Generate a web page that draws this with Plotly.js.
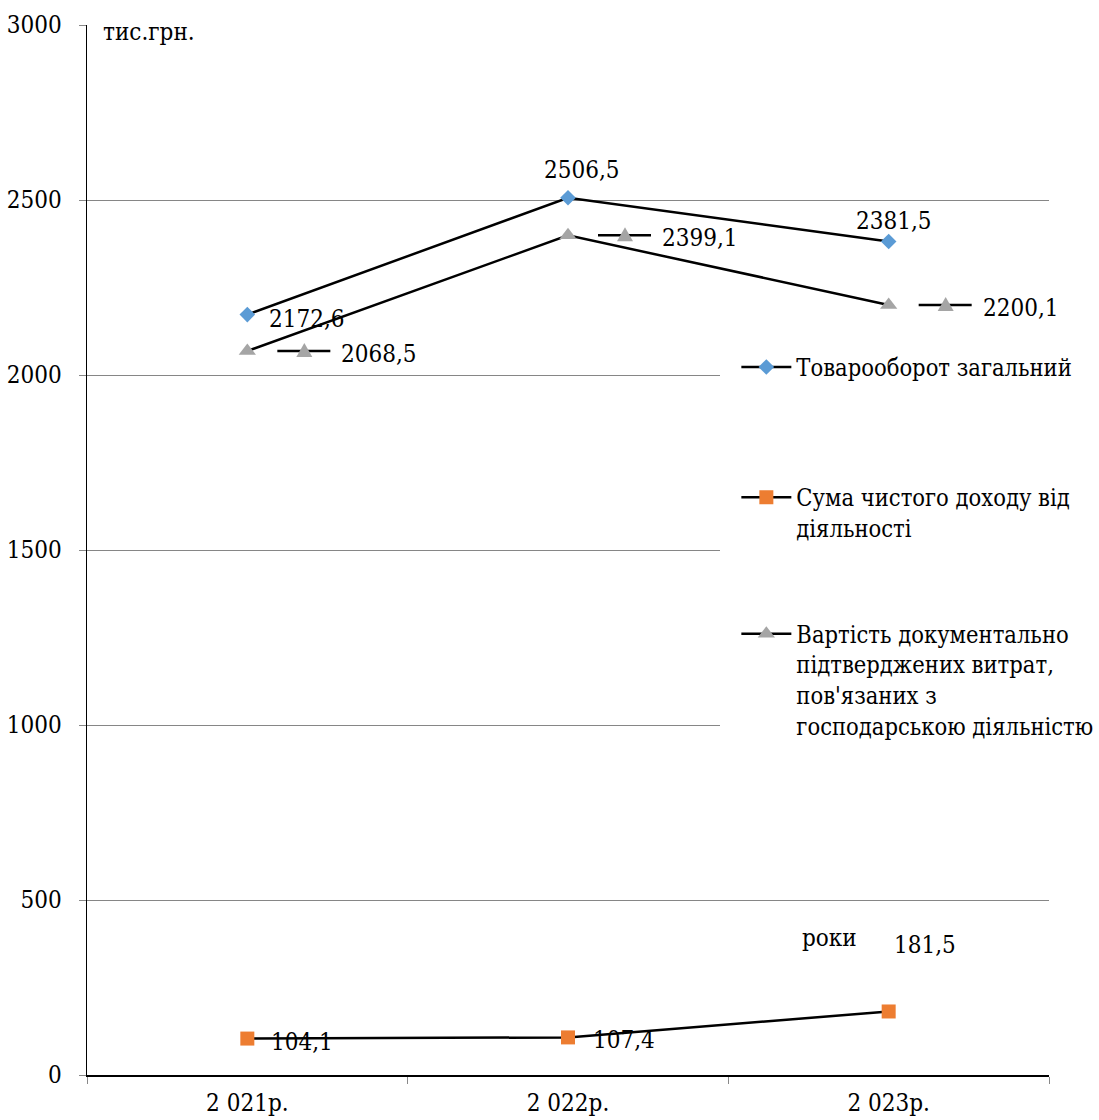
<!DOCTYPE html>
<html>
<head>
<meta charset="utf-8">
<script src="https://cdn.plot.ly/plotly-3.0.1.min.js"></script>
<style>
  html, body { margin: 0; padding: 0; background: #fff; }
  #chart { width: 1099px; height: 1120px; }
</style>
</head>
<body>
<div id="chart"></div>
<script>
// Роки (категорії осі X)
const years = ['2 021р.', '2 022р.', '2 023р.'];

// Показники, тис.грн.
const turnover = [2172.6, 2506.5, 2381.5];   // Товарооборот загальний
const netIncome = [104.1, 107.4, 181.5];      // Сума чистого доходу від діяльності
const expenses = [2068.5, 2399.1, 2200.1];    // Вартість документально підтверджених витрат

const seriesNames = [
  'Товарооборот загальний',
  'Сума чистого доходу від<br>діяльності',
  'Вартість документально<br>підтверджених витрат,<br>пов\'язаних з<br>господарською діяльністю'
];

const yTicks = [0, 500, 1000, 1500, 2000, 2500, 3000];

const FONT = 'DejaVu Serif Condensed, DejaVu Serif, serif';
const FS = 24;
const fmt = v => v.toFixed(1).replace('.', ',');
const xIdx = i => i; // category index on the x axis

const traces = [
  {
    x: years, y: turnover, name: seriesNames[0], type: 'scatter', mode: 'lines+markers',
    line: { color: '#000', width: 2.5 },
    marker: { symbol: 'diamond', size: 12, color: '#5B9BD5' },
    legend: 'legend', cliponaxis: false
  },
  {
    x: years, y: netIncome, name: seriesNames[1], type: 'scatter', mode: 'lines+markers',
    line: { color: '#000', width: 2.5 },
    marker: { symbol: 'square', size: 14, color: '#ED7D31' },
    legend: 'legend2', cliponaxis: false
  },
  {
    x: years, y: expenses, name: seriesNames[2], type: 'scatter', mode: 'lines+markers',
    line: { color: '#000', width: 2.5 },
    marker: { symbol: 'triangle-up', size: 15, color: '#A5A5A5' },
    legend: 'legend3', cliponaxis: false
  }
];

// Data labels: pixel offsets from each point
const turnoverOffsets = [
  { xanchor: 'left', xshift: 20, yshift: -4 },
  { xanchor: 'center', xshift: 14, yshift: 28 },
  { xanchor: 'center', xshift: 5, yshift: 20 }
];
const incomeOffsets = [
  { xanchor: 'left', xshift: 22, yshift: -3 },
  { xanchor: 'left', xshift: 23, yshift: -3 },
  { xanchor: 'center', xshift: 36, yshift: 66 }
];

const annotations = [];
const labelFont = { family: FONT, size: FS, color: '#000' };

turnover.forEach((v, i) => {
  annotations.push(Object.assign({
    x: xIdx(i), y: v, xref: 'x', yref: 'y', text: fmt(v), showarrow: false,
    yanchor: 'middle', font: labelFont
  }, turnoverOffsets[i]));
});
netIncome.forEach((v, i) => {
  annotations.push(Object.assign({
    x: xIdx(i), y: v, xref: 'x', yref: 'y', text: fmt(v), showarrow: false,
    yanchor: 'middle', font: labelFont
  }, incomeOffsets[i]));
});

// Labels with a legend key in front of the value
const shapes = [];
expenses.forEach((v, i) => {
  annotations.push({
    x: xIdx(i), y: v, xref: 'x', yref: 'y', text: fmt(v), showarrow: false,
    xanchor: 'left', yanchor: 'middle', xshift: 92, yshift: -3, font: labelFont
  });
  shapes.push({
    type: 'line', xref: 'x', yref: 'y', xsizemode: 'pixel', ysizemode: 'pixel',
    xanchor: xIdx(i), yanchor: v, x0: 30, x1: 83, y0: 0, y1: 0,
    line: { color: '#000', width: 2.5 }, layer: 'above'
  });
  shapes.push({
    type: 'path', xref: 'x', yref: 'y', xsizemode: 'pixel', ysizemode: 'pixel',
    xanchor: xIdx(i), yanchor: v,
    path: 'M 49,-6 L 65,-6 L 57,8 Z',
    fillcolor: '#A5A5A5', line: { width: 0 }, layer: 'above'
  });
});

// White panel behind the legends (hides grid lines there)
shapes.unshift({
  type: 'rect', xref: 'paper', yref: 'paper',
  x0: 0.658, x1: 1.06, y0: 0.314, y1: 0.69,
  fillcolor: '#fff', line: { width: 0 }, layer: 'above'
});

annotations.push({
  xref: 'paper', yref: 'paper', x: 0.0146, y: 0.9933, xanchor: 'left', yanchor: 'middle',
  text: 'тис.грн.', showarrow: false, font: labelFont
});
annotations.push({
  xref: 'paper', yref: 'paper', x: 0.741, y: 0.1305, xanchor: 'left', yanchor: 'middle',
  text: 'роки', showarrow: false, font: labelFont
});

const legendBase = {
  xanchor: 'left', yanchor: 'top', bgcolor: 'rgba(0,0,0,0)', borderwidth: 0,
  font: { family: FONT, size: 23.5, color: '#000' }, valign: 'top', itemwidth: 50
};

const layout = {
  width: 1099, height: 1120,
  margin: { l: 87, r: 50, t: 25, b: 45, autoexpand: false },
  paper_bgcolor: '#fff', plot_bgcolor: '#fff',
  font: { family: FONT, size: FS, color: '#000' },
  xaxis: {
    type: 'category', range: [-0.5, 2.5],
    showline: true, linecolor: '#000', linewidth: 1.5,
    ticks: 'outside', tickson: 'boundaries', ticklen: 7, tickcolor: '#888', tickwidth: 1,
    showgrid: false, zeroline: false,
    tickfont: { family: FONT, size: FS, color: '#000' },
    ticklabelstandoff: 6
  },
  yaxis: {
    range: [0, 3000], tickvals: yTicks, ticktext: yTicks.map(String),
    showline: true, linecolor: '#000', linewidth: 1.5,
    ticks: 'outside', ticklen: 7, tickcolor: '#888', tickwidth: 1,
    showgrid: true, gridcolor: '#868686', gridwidth: 1, zeroline: false,
    tickfont: { family: FONT, size: FS, color: '#000' },
    ticklabelstandoff: 12
  },
  showlegend: true,
  legend: Object.assign({}, legendBase, { x: 0.675, y: 0.695 }),
  legend2: Object.assign({}, legendBase, { x: 0.675, y: 0.571 }),
  legend3: Object.assign({}, legendBase, { x: 0.675, y: 0.441 }),
  annotations: annotations,
  shapes: shapes
};

Plotly.newPlot('chart', traces, layout, { displayModeBar: false, staticPlot: true });
</script>
</body>
</html>
